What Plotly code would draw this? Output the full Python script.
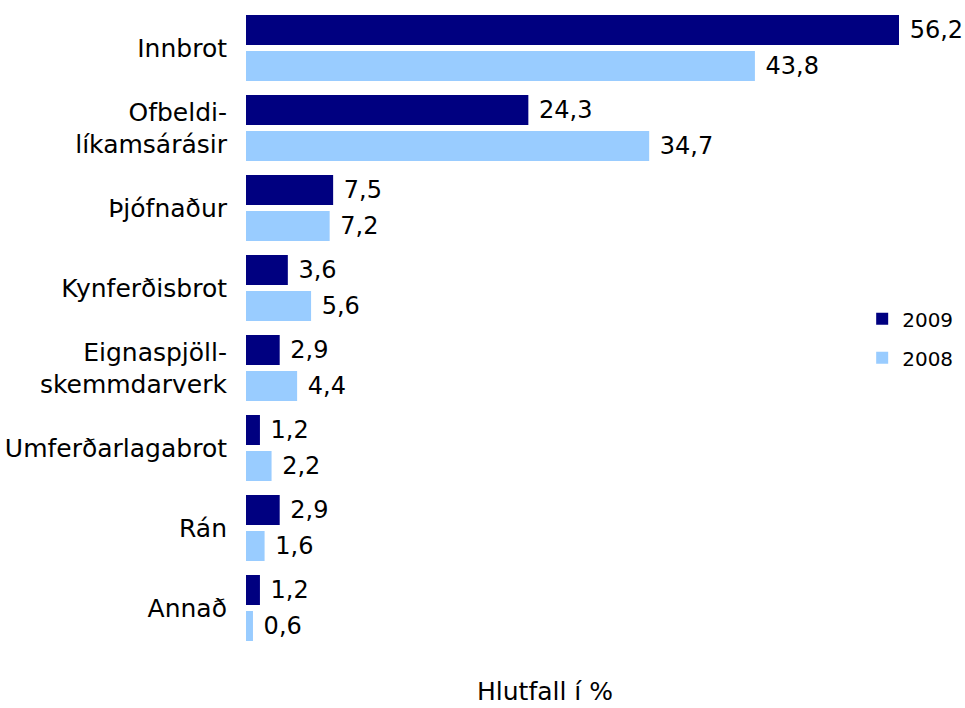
import plotly.graph_objects as go

categories = [
    "Innbrot",
    "Ofbeldi-<br>líkamsárásir",
    "Þjófnaður",
    "Kynferðisbrot",
    "Eignaspjöll-<br>skemmdarverk",
    "Umferðarlagabrot",
    "Rán",
    "Annað",
]
values_2009 = [56.2, 24.3, 7.5, 3.6, 2.9, 1.2, 2.9, 1.2]
values_2008 = [43.8, 34.7, 7.2, 5.6, 4.4, 2.2, 1.6, 0.6]

color_2009 = "#000080"
color_2008 = "#99CCFF"
font_family = "DejaVu Sans"


def fmt(v):
    # Icelandic decimal comma, with a little space before the label
    return " " + f"{v:.1f}".replace(".", ",")


fig = go.Figure()
for name, vals, col in [("2009", values_2009, color_2009), ("2008", values_2008, color_2008)]:
    fig.add_trace(go.Bar(
        y=categories,
        x=vals,
        name=name,
        orientation="h",
        marker=dict(color=col, line=dict(width=0)),
        text=[fmt(v) for v in vals],
        textposition="outside",
        textfont=dict(family=font_family, size=24, color="#000000"),
        cliponaxis=False,
        legendgroup=name,
    ))

fig.update_layout(
    width=965,
    height=708,
    margin=dict(l=246, r=0, t=8, b=60),
    paper_bgcolor="white",
    plot_bgcolor="white",
    barmode="group",
    bargap=0.1,
    bargroupgap=1 / 6,
    font=dict(family=font_family, size=24, color="#000000"),
    showlegend=True,
    legend=dict(
        x=0.857, y=0.545, xanchor="left", yanchor="top",
        font=dict(family=font_family, size=20, color="#000000"),
        bgcolor="rgba(0,0,0,0)",
        tracegroupgap=10,
        traceorder="grouped",
        itemwidth=30,
    ),
    xaxis=dict(
        range=[0, 61.88],
        showgrid=False,
        zeroline=False,
        showline=False,
        showticklabels=False,
        ticks="",
    ),
    yaxis=dict(
        autorange="reversed",
        showgrid=False,
        zeroline=False,
        showline=False,
        ticks="",
        ticklabelstandoff=18,
        tickfont=dict(family=font_family, size=25, color="#000000"),
    ),
    annotations=[dict(
        text="Hlutfall í %",
        xref="paper", yref="paper",
        x=0.416, y=-0.042,
        xanchor="center", yanchor="top",
        showarrow=False,
        font=dict(family=font_family, size=25, color="#000000"),
    )],
)

fig.write_html("out.html")
